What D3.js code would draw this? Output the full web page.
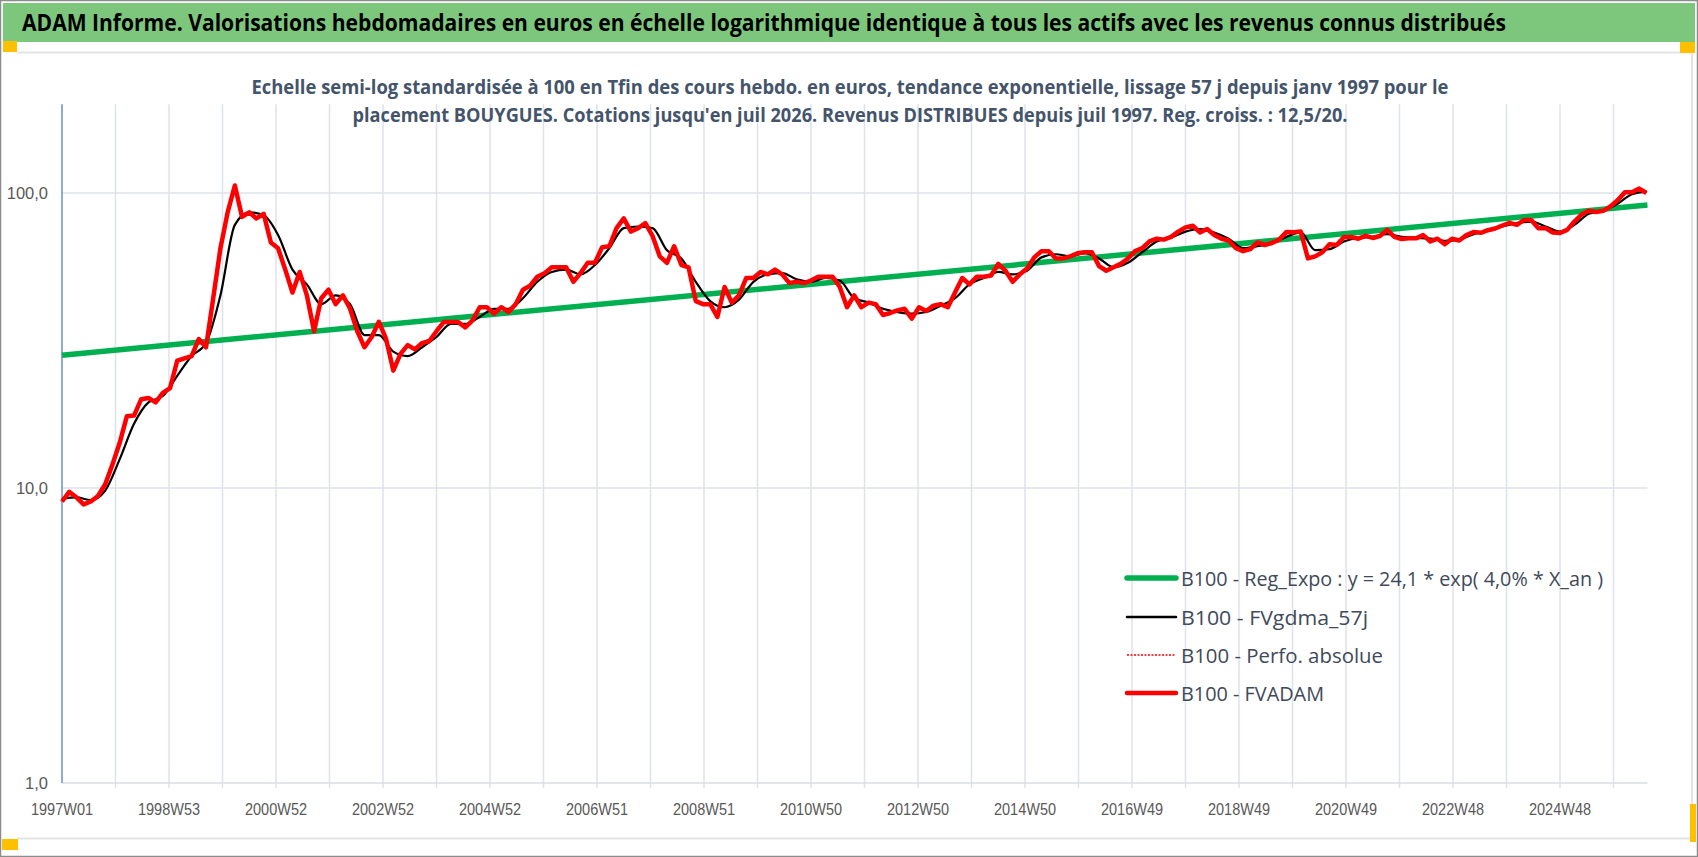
<!DOCTYPE html>
<html><head><meta charset="utf-8">
<script src="https://cdn.jsdelivr.net/npm/d3@7"></script>
<style>
html,body{margin:0;padding:0;background:#fff;}
svg{display:block;}
</style></head>
<body>
<svg id="c" width="1698" height="857"></svg>
<script>
// ---- DATA ----
const titleText = "ADAM Informe. Valorisations hebdomadaires en euros en échelle logarithmique identique à tous les actifs avec les revenus connus distribués";
const subtitleLines = [
  "Echelle semi-log standardisée à 100 en Tfin des cours hebdo. en euros, tendance exponentielle, lissage 57 j depuis janv 1997 pour le",
  "placement BOUYGUES. Cotations jusqu'en juil 2026. Revenus DISTRIBUES depuis juil 1997. Reg. croiss. : 12,5/20."
];
const tickLabels = ["1997W01","1998W53","2000W52","2002W52","2004W52","2006W51","2008W51","2010W50","2012W50","2014W50","2016W49","2018W49","2020W49","2022W48","2024W48"];
const tickWeeks = [0,104,208,312,416,520,624,728,832,936,1040,1144,1248,1352,1456];
const yTickValues = [1, 10, 100];
const yTickLabels = ["1,0", "10,0", "100,0"];
const totalWeeks = 1541;        // last weekly category index (juil 2026)
const weeksPerYear = 52;         // gridline period

// FVADAM (weekly values, one reading every 7 weeks)
const fvadamStep = 7;
const fvadam = [
 9.0,9.7,9.3,8.8,9.0,9.4,10.3,12.0,14.2,17.5,
 17.6,20.0,20.2,19.5,21.0,21.8,27,27.5,28,32,
 30,44,65,86,106,83,86,82,85,68,
 65,55,46,54,45,34,44,47,42,45,
 40.5,34,30,32.5,36.6,32,25,28.5,30.5,29.5,
 31,31.5,34,36.5,36.5,36.5,35,37,41,41,
 39,41,39.5,42,47,48.5,52,53.5,56,56,
 56,50,53.5,58,58,65.5,66,76,82,74,
 76,79,71.5,61,58,66,57,56,43,42,
 42,38,48,42.5,45,51.5,51.5,54,53,55,
 53,49.5,50,49.5,50.5,52,52,52,48,41,
 45,41,42.5,42,38.6,39.2,40,40.5,37.5,41,
 39.8,41.5,42,41,46,51.5,49,52,52,52.5,
 57.5,54.5,50,53,55.5,60.5,63.5,63.5,60,60,
 61,62.5,63,63,56.5,54.5,56,57.5,60,63.5,
 65,68.5,70,69.5,71,74,76.5,77.5,73.5,75.5,
 72,70,69,65,63.5,64.5,68,66.6,67.7,69.5,
 73.7,73.6,74,60,61,63,67,66.6,70.9,70.9,
 70,71.6,70.4,71.5,75,71,69.8,70.2,70.2,72,
 68.5,70,67,70,69,72,73.7,73.3,74.8,75.8,
 77.6,79.2,78,81,81,76,76,73.5,73.2,75,
 80,84.5,87,86.2,87,90,94.5,100.5,100.5,103.5,
 100
];
// FVgdma_57j (smoothed, one reading every 14 weeks)
const fvgdmaStep = 14;
const fvgdma = [
 9.2,9.3,9.1,9.8,12.5,16.5,19.5,20.5,24,28,
 31,45,78,86,84,72,55,49,42,45,
 42,33,33,29,28,30,32.5,36,36,38,
 40.5,40.5,44,50,54,55,53,57,65,76,
 77,76,64,60,50,43,41,43.5,50,53,
 53.5,51,50,51.5,50.5,44,42.5,40.5,39.5,39,
 39.5,41.5,44,49,51.5,54,53,54.5,60.5,62,
 61,62.5,60,56,58,63,68.5,70.5,74,75.5,
 73.5,70,65,66,67.5,71,73.5,64,64.5,68.5,
 70.5,71,72.5,71,70.5,70,68.8,69.5,72.5,74.5,
 77,79,80,77,74,78,85,87,92,99,
 101
];
// Reg_Expo : values read at first and last week (straight line on log scale)
const regExpo = [28.2, 91];

const legendLabels = [
  "B100 - Reg_Expo : y = 24,1 * exp( 4,0% *  X_an )",
  "B100 - FVgdma_57j",
  "B100 - Perfo. absolue",
  "B100 - FVADAM"
];

// ---- DRAW ----
const svg = d3.select("#c");
const W = 1698, H = 857;
const FONT = "'Open Sans', 'Liberation Sans', sans-serif";

svg.append("rect").attr("x",0).attr("y",0).attr("width",W).attr("height",H).attr("fill","#fff");
// title bar
svg.append("rect").attr("x",3).attr("y",3).attr("width",1692).attr("height",39).attr("fill","#7DC77D");
svg.append("text").attr("x",22).attr("y",30.5)
  .attr("font-family",FONT).attr("font-weight","bold").attr("font-size",22.5).attr("fill","#000")
  .attr("textLength",1484).attr("lengthAdjust","spacingAndGlyphs").text(titleText);
// frame lines
svg.append("line").attr("x1",17).attr("x2",1692).attr("y1",52.5).attr("y2",52.5).attr("stroke","#E4E4E4").attr("stroke-width",2);
svg.append("line").attr("x1",17).attr("x2",1692).attr("y1",838.5).attr("y2",838.5).attr("stroke","#E4E4E4").attr("stroke-width",2);
svg.append("line").attr("x1",1692).attr("x2",1692).attr("y1",52).attr("y2",838).attr("stroke","#E4E4E4").attr("stroke-width",2);
svg.append("rect").attr("x",0.5).attr("y",0.5).attr("width",W-1).attr("height",H-1).attr("fill","none").attr("stroke","#8C8C8C").attr("stroke-width",1.5);
// yellow markers
const yellow = "#FFC000";
svg.append("rect").attr("x",3).attr("y",41).attr("width",14).attr("height",11).attr("fill",yellow);
svg.append("rect").attr("x",1680).attr("y",42).attr("width",15).attr("height",11).attr("fill",yellow);
svg.append("rect").attr("x",2).attr("y",839).attr("width",16).attr("height",11).attr("fill",yellow);
svg.append("rect").attr("x",1690).attr("y",804).attr("width",6).attr("height",38).attr("fill",yellow);

// scales
const x0 = 62, pxPerWeek = 53.5/52;
const x = d3.scaleLinear().domain([0,totalWeeks]).range([x0, x0 + totalWeeks*pxPerWeek]);
const y = d3.scaleLog().domain([1,200]).range([783, 783 - 295*Math.log10(200)]);

const g = svg.append("g");
// vertical gridlines every year
const gridWeeks = d3.range(weeksPerYear, totalWeeks, weeksPerYear);
g.selectAll(".vg").data(gridWeeks).enter().append("line")
  .attr("x1",d=>x(d)).attr("x2",d=>x(d)).attr("y1",y(200)).attr("y2",y(1)+5)
  .attr("stroke","#DEE2EA").attr("stroke-width",1.5);
// horizontal gridlines
g.selectAll(".hg").data(yTickValues.slice(1)).enter().append("line")
  .attr("x1",x(0)).attr("x2",x(totalWeeks)).attr("y1",d=>y(d)).attr("y2",d=>y(d))
  .attr("stroke","#DEE2EA").attr("stroke-width",1.5);
// x axis line
g.append("line").attr("x1",x(0)).attr("x2",x(totalWeeks)).attr("y1",y(1)).attr("y2",y(1)).attr("stroke","#D9DCE3").attr("stroke-width",1.5);
// y axis line
g.append("line").attr("x1",x(0)).attr("x2",x(0)).attr("y1",y(200)).attr("y2",y(1)).attr("stroke","#4472C4").attr("stroke-width",1.2);

// subtitle
const subW = [1197, 995];
const subY = [86, 114];
subtitleLines.forEach((t,i)=>{
  svg.append("text").attr("x",850).attr("y",subY[i]).attr("text-anchor","middle").attr("dominant-baseline","central")
    .attr("font-family",FONT).attr("font-weight","bold").attr("font-size",19.5).attr("fill","#44546A")
    .attr("textLength",subW[i]).attr("lengthAdjust","spacingAndGlyphs").text(t);
});

// x tick labels
g.selectAll(".xl").data(tickWeeks).enter().append("text")
  .attr("x",d=>x(d)).attr("y",809).attr("text-anchor","middle").attr("dominant-baseline","central")
  .attr("font-family","'Liberation Sans', Arial, sans-serif").attr("font-size",16.5).attr("fill","#595959")
  .attr("textLength",62).attr("lengthAdjust","spacingAndGlyphs")
  .text((d,i)=>tickLabels[i]);
// y tick labels
g.selectAll(".yl").data(yTickValues).enter().append("text")
  .attr("x",48).attr("y",d=>y(d)).attr("text-anchor","end").attr("dominant-baseline","central")
  .attr("font-family","'Liberation Sans', Arial, sans-serif").attr("font-size",16.5).attr("fill","#595959")
  .text((d,i)=>yTickLabels[i]);

// series
const lineRed = d3.line().x(d=>x(d.w)).y(d=>y(d.v));
const redPts = fvadam.map((v,i)=>({w:i*fvadamStep, v}));
const blkPts = fvgdma.map((v,i)=>({w:i*fvgdmaStep, v}));
const regPts = [{w:0, v:regExpo[0]}, {w:totalWeeks, v:regExpo[1]}];

g.append("path").datum(regPts).attr("d",d3.line().x(d=>x(d.w)).y(d=>y(d.v)))
  .attr("fill","none").attr("stroke","#00B050").attr("stroke-width",5.5);
g.append("path").datum(blkPts).attr("d",d3.line().curve(d3.curveMonotoneX).x(d=>x(d.w)).y(d=>y(d.v)))
  .attr("fill","none").attr("stroke","#000").attr("stroke-width",2.2);
// Perfo. absolue (dotted, follows FVADAM readings)
g.append("path").datum(redPts).attr("d",lineRed)
  .attr("fill","none").attr("stroke","#FF0000").attr("stroke-width",1.2).attr("stroke-dasharray","1.5,1.5");
g.append("path").datum(redPts).attr("d",lineRed)
  .attr("fill","none").attr("stroke","#FF0000").attr("stroke-width",4.5).attr("stroke-linejoin","round");

// legend
const legY = [578, 617, 655, 693];
const legW = [422, 187, 202, 143];
const legStyles = [
  {c:"#00B050", w:5.5, dash:null},
  {c:"#000", w:2.5, dash:null},
  {c:"#FF0000", w:1.5, dash:"2,1.5"},
  {c:"#FF0000", w:4.5, dash:null}
];
legendLabels.forEach((t,i)=>{
  const s = legStyles[i];
  const l = svg.append("line").attr("x1",1127).attr("x2",1176).attr("y1",legY[i]).attr("y2",legY[i])
    .attr("stroke",s.c).attr("stroke-width",s.w).attr("stroke-linecap", s.dash? "butt":"round");
  if (s.dash) l.attr("stroke-dasharray", s.dash);
  svg.append("text").attr("x",1181).attr("y",legY[i]).attr("dominant-baseline","central")
    .attr("font-family",FONT).attr("font-size",20).attr("fill","#404A5A")
    .attr("textLength",legW[i]).attr("lengthAdjust","spacingAndGlyphs").text(t);
});
</script>
</body></html>
